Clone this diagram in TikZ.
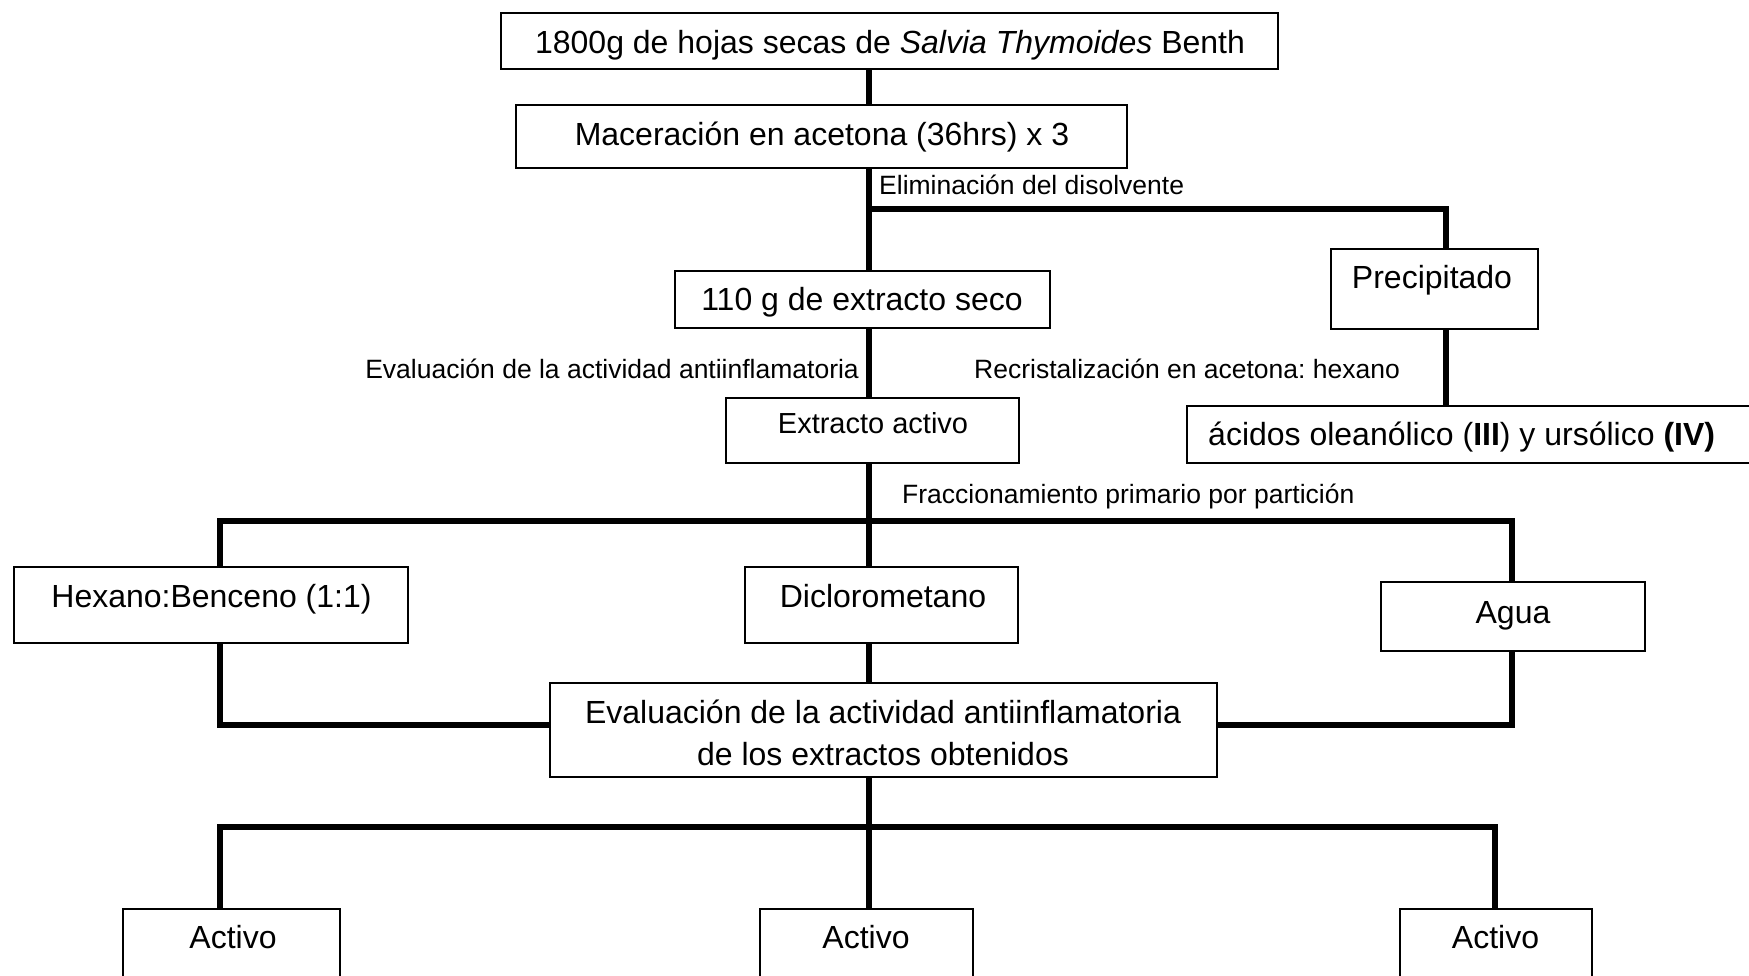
\documentclass[tikz,border=0pt]{standalone}
\usepackage{fontspec}
\setmainfont{Liberation Sans}
\frenchspacing
\begin{document}
\begin{tikzpicture}[x=1pt,y=-1pt,
  box/.style={draw, line width=2.5pt, inner sep=0pt, outer sep=0pt},
  conn/.style={line width=6pt, line join=miter},
  bigtxt/.style={inner sep=0pt, anchor=base, font=\fontsize{32}{38}\selectfont},
  midtxt/.style={inner sep=0pt, anchor=base, font=\fontsize{29}{35}\selectfont},
  smalltxt/.style={inner sep=0pt, font=\fontsize{26.5}{32}\selectfont}]
\useasboundingbox (0,0) rectangle (1749,975);
% boxes
\node[box, minimum width=777, minimum height=56] (b1) at (889.5,41) {};
\node[box, minimum width=611, minimum height=63] (b2) at (821.5,136.5) {};
\node[box, minimum width=375, minimum height=57] (b3) at (862.5,299.5) {};
\node[box, minimum width=207, minimum height=80] (prec) at (1434.5,289) {};
\node[box, minimum width=293, minimum height=65] (ext) at (872.5,430.5) {};
\node[box, minimum width=583, minimum height=57] (acid) at (1478.5,434.5) {};
\node[box, minimum width=394, minimum height=76] (hex) at (211,605) {};
\node[box, minimum width=273, minimum height=76] (dic) at (881.5,605) {};
\node[box, minimum width=264, minimum height=69] (agua) at (1513,616.5) {};
\node[box, minimum width=667, minimum height=94] (eval) at (883.5,730) {};
\node[box, minimum width=217, minimum height=81] (act1) at (231.5,949.5) {};
\node[box, minimum width=213, minimum height=81] (act2) at (866.5,949.5) {};
\node[box, minimum width=192, minimum height=81] (act3) at (1496,949.5) {};
% texts
\node[bigtxt] (t1) at (890,53) {1800g de hojas secas de \textit{Salvia Thymoides} Benth};
\node[bigtxt] (t2) at (822,145) {Maceración en acetona (36hrs) x 3};
\node[bigtxt] (t3) at (862,310) {110 g de extracto seco};
\node[bigtxt] (tprec) at (1432,288) {Precipitado};
\node[midtxt] (text) at (873,433) {Extracto activo};
\node[bigtxt, anchor=base west] (tacid) at (1208,445) {ácidos oleanólico (\textbf{III}) y ursólico \textbf{(IV)}};
\node[bigtxt] (thex) at (211.5,607) {Hexano:Benceno (1:1)};
\node[bigtxt] (tdic) at (883,607) {Diclorometano};
\node[bigtxt] (tagua) at (1513,623) {Agua};
\node[bigtxt] (teval1) at (883,723) {Evaluación de la actividad antiinflamatoria};
\node[bigtxt] (teval2) at (883,765) {de los extractos obtenidos};
\node[bigtxt] (tact1) at (233,948) {Activo};
\node[bigtxt] (tact2) at (866,948) {Activo};
\node[bigtxt] (tact3) at (1495.5,948) {Activo};
% labels
\node[smalltxt, anchor=base west] (l1) at (879,194) {Eliminación del disolvente};
\node[smalltxt, anchor=base east] (l2) at (859,378) {Evaluación de la actividad antiinflamatoria};
\node[smalltxt, anchor=base west] (l3) at (974,378) {Recristalización en acetona: hexano};
\node[smalltxt, anchor=base west] (l4) at (902,503) {Fraccionamiento primario por partición};
% helper coordinates
\coordinate (sp) at (869,0);
\coordinate (px) at (1446,0);
\coordinate (lx) at (220,0);
\coordinate (rx) at (1512,0);
\coordinate (r2) at (1495,0);
\coordinate (j1) at (869,209);
\coordinate (j2) at (869,521);
\coordinate (j3) at (869,827);
\coordinate (ly) at (0,725);
% connectors
\draw[conn] (b1.south -| sp) -- (b2.north -| sp);
\draw[conn] (b2.south -| sp) -- (b3.north -| sp);
\draw[conn] (j1) -| (prec.north -| px);
\draw[conn] (b3.south -| sp) -- (ext.north -| sp);
\draw[conn] (prec.south -| px) -- (acid.north -| px);
\draw[conn] (ext.south -| sp) -- (dic.north -| sp);
\draw[conn] (hex.north -| lx) |- (j2) -| (agua.north -| rx);
\draw[conn] (hex.south -| lx) |- (eval.west |- ly);
\draw[conn] (agua.south -| rx) |- (eval.east |- ly);
\draw[conn] (dic.south -| sp) -- (eval.north -| sp);
\draw[conn] (eval.south -| sp) -- (act2.north -| sp);
\draw[conn] (act1.north -| lx) |- (j3) -| (act3.north -| r2);
\end{tikzpicture}
\end{document}
